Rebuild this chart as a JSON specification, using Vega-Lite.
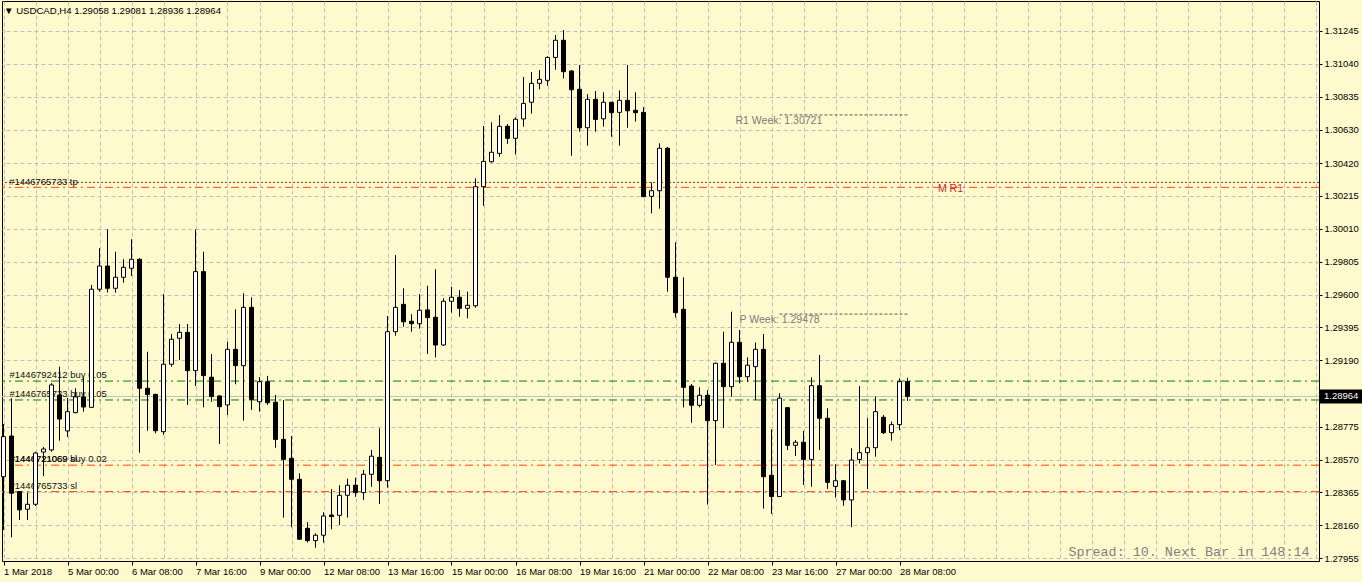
{
  "$schema": "https://vega.github.io/schema/vega-lite/v6.json",
  "width": 1317,
  "height": 560,
  "autosize": {"type": "none"},
  "padding": {"left": 2, "top": 1, "right": 43, "bottom": 21},
  "background": "#fffacd",
  "config": {
    "view": {"stroke": "black", "strokeWidth": 1, "fill": null},
    "font": "Liberation Sans",
    "scale": {"continuousPadding": 0},
    "axis": {"labelOverlap": false, "labelSeparation": 0}
  },
  "title": {"text": "▼  USDCAD,H4  1.29058 1.29081 1.28936 1.28964", "anchor": "start", "frame": "group", "orient": "top", "offset": -15, "dx": 2, "font": "Liberation Sans", "fontSize": 9.6, "fontWeight": "normal", "color": "black"},
  "datasets": {
    "candles": [
      {"i":0,"o":1.28463,"h":1.28792,"l":1.28131,"c":1.28713},
      {"i":1,"o":1.28717,"h":1.28953,"l":1.28085,"c":1.28360},
      {"i":2,"o":1.28370,"h":1.28372,"l":1.28193,"c":1.28256},
      {"i":3,"o":1.28260,"h":1.28364,"l":1.28193,"c":1.28291},
      {"i":4,"o":1.28291,"h":1.28619,"l":1.28280,"c":1.28611},
      {"i":5,"o":1.28617,"h":1.28649,"l":1.28467,"c":1.28636},
      {"i":6,"o":1.28630,"h":1.29048,"l":1.28619,"c":1.29036},
      {"i":7,"o":1.28973,"h":1.29150,"l":1.28688,"c":1.28823},
      {"i":8,"o":1.28749,"h":1.28955,"l":1.28711,"c":1.28869},
      {"i":9,"o":1.28863,"h":1.29015,"l":1.28859,"c":1.28961},
      {"i":10,"o":1.28961,"h":1.29083,"l":1.28869,"c":1.28898},
      {"i":11,"o":1.28896,"h":1.29660,"l":1.28892,"c":1.29633},
      {"i":12,"o":1.29633,"h":1.29889,"l":1.29618,"c":1.29778},
      {"i":13,"o":1.29778,"h":1.30007,"l":1.29612,"c":1.29639},
      {"i":14,"o":1.29639,"h":1.29867,"l":1.29612,"c":1.29708},
      {"i":15,"o":1.29708,"h":1.29820,"l":1.29674,"c":1.29770},
      {"i":16,"o":1.29764,"h":1.29945,"l":1.29716,"c":1.29820},
      {"i":17,"o":1.29820,"h":1.29826,"l":1.28613,"c":1.29015},
      {"i":18,"o":1.29015,"h":1.29243,"l":1.28750,"c":1.28976},
      {"i":19,"o":1.28977,"h":1.28980,"l":1.28734,"c":1.28750},
      {"i":20,"o":1.28744,"h":1.29603,"l":1.28724,"c":1.29165},
      {"i":21,"o":1.29165,"h":1.29354,"l":1.29150,"c":1.29321},
      {"i":22,"o":1.29327,"h":1.29416,"l":1.29192,"c":1.29364},
      {"i":23,"o":1.29364,"h":1.29416,"l":1.28911,"c":1.29125},
      {"i":24,"o":1.29125,"h":1.30007,"l":1.29029,"c":1.29743},
      {"i":25,"o":1.29743,"h":1.29867,"l":1.28896,"c":1.29094},
      {"i":26,"o":1.29084,"h":1.29229,"l":1.28931,"c":1.28963},
      {"i":27,"o":1.28967,"h":1.28970,"l":1.28667,"c":1.28900},
      {"i":28,"o":1.28911,"h":1.29305,"l":1.28848,"c":1.29258},
      {"i":29,"o":1.29258,"h":1.29508,"l":1.29040,"c":1.29156},
      {"i":30,"o":1.29156,"h":1.29608,"l":1.28813,"c":1.29520},
      {"i":31,"o":1.29520,"h":1.29583,"l":1.28880,"c":1.28946},
      {"i":32,"o":1.28931,"h":1.29084,"l":1.28869,"c":1.29056},
      {"i":33,"o":1.29056,"h":1.29092,"l":1.28911,"c":1.28925},
      {"i":34,"o":1.28928,"h":1.28973,"l":1.28644,"c":1.28696},
      {"i":35,"o":1.28696,"h":1.28942,"l":1.28208,"c":1.28571},
      {"i":36,"o":1.28578,"h":1.28717,"l":1.28148,"c":1.28447},
      {"i":37,"o":1.28447,"h":1.28484,"l":1.28070,"c":1.28073},
      {"i":38,"o":1.28141,"h":1.28179,"l":1.28052,"c":1.28064},
      {"i":39,"o":1.28064,"h":1.28110,"l":1.28020,"c":1.28098},
      {"i":40,"o":1.28098,"h":1.28241,"l":1.28052,"c":1.28218},
      {"i":41,"o":1.28224,"h":1.28385,"l":1.28135,"c":1.28214},
      {"i":42,"o":1.28222,"h":1.28410,"l":1.28162,"c":1.28347},
      {"i":43,"o":1.28347,"h":1.28451,"l":1.28208,"c":1.28410},
      {"i":44,"o":1.28410,"h":1.28457,"l":1.28337,"c":1.28364},
      {"i":45,"o":1.28364,"h":1.28505,"l":1.28318,"c":1.28478},
      {"i":46,"o":1.28478,"h":1.28630,"l":1.28401,"c":1.28591},
      {"i":47,"o":1.28584,"h":1.28765,"l":1.28293,"c":1.28438},
      {"i":48,"o":1.28438,"h":1.29466,"l":1.28395,"c":1.29368},
      {"i":49,"o":1.29368,"h":1.29846,"l":1.29343,"c":1.29520},
      {"i":50,"o":1.29539,"h":1.29639,"l":1.29399,"c":1.29430},
      {"i":51,"o":1.29433,"h":1.29477,"l":1.29368,"c":1.29418},
      {"i":52,"o":1.29418,"h":1.29603,"l":1.29387,"c":1.29502},
      {"i":53,"o":1.29504,"h":1.29654,"l":1.29229,"c":1.29456},
      {"i":54,"o":1.29458,"h":1.29758,"l":1.29208,"c":1.29285},
      {"i":55,"o":1.29285,"h":1.29577,"l":1.29279,"c":1.29558},
      {"i":56,"o":1.29558,"h":1.29649,"l":1.29487,"c":1.29583},
      {"i":57,"o":1.29583,"h":1.29628,"l":1.29462,"c":1.29514},
      {"i":58,"o":1.29514,"h":1.29618,"l":1.29452,"c":1.29533},
      {"i":59,"o":1.29530,"h":1.30325,"l":1.29518,"c":1.30273},
      {"i":60,"o":1.30273,"h":1.30652,"l":1.30154,"c":1.30431},
      {"i":61,"o":1.30429,"h":1.30675,"l":1.30423,"c":1.30488},
      {"i":62,"o":1.30481,"h":1.30720,"l":1.30460,"c":1.30650},
      {"i":63,"o":1.30650,"h":1.30664,"l":1.30541,"c":1.30575},
      {"i":64,"o":1.30575,"h":1.30706,"l":1.30473,"c":1.30694},
      {"i":65,"o":1.30696,"h":1.30958,"l":1.30648,"c":1.30793},
      {"i":66,"o":1.30800,"h":1.30989,"l":1.30729,"c":1.30918},
      {"i":67,"o":1.30918,"h":1.31001,"l":1.30881,"c":1.30943},
      {"i":68,"o":1.30937,"h":1.31087,"l":1.30903,"c":1.31080},
      {"i":69,"o":1.31080,"h":1.31220,"l":1.31003,"c":1.31187},
      {"i":70,"o":1.31187,"h":1.31251,"l":1.30949,"c":1.30991},
      {"i":71,"o":1.30995,"h":1.31001,"l":1.30466,"c":1.30878},
      {"i":72,"o":1.30881,"h":1.31032,"l":1.30616,"c":1.30641},
      {"i":73,"o":1.30641,"h":1.30850,"l":1.30529,"c":1.30818},
      {"i":74,"o":1.30818,"h":1.30870,"l":1.30616,"c":1.30693},
      {"i":75,"o":1.30697,"h":1.30862,"l":1.30648,"c":1.30800},
      {"i":76,"o":1.30800,"h":1.30802,"l":1.30585,"c":1.30735},
      {"i":77,"o":1.30737,"h":1.30874,"l":1.30529,"c":1.30812},
      {"i":78,"o":1.30812,"h":1.31032,"l":1.30641,"c":1.30747},
      {"i":79,"o":1.30750,"h":1.30862,"l":1.30679,"c":1.30735},
      {"i":80,"o":1.30737,"h":1.30770,"l":1.30208,"c":1.30211},
      {"i":81,"o":1.30213,"h":1.30300,"l":1.30107,"c":1.30248},
      {"i":82,"o":1.30248,"h":1.30544,"l":1.30136,"c":1.30513},
      {"i":83,"o":1.30513,"h":1.30521,"l":1.29618,"c":1.29708},
      {"i":84,"o":1.29708,"h":1.29926,"l":1.29457,"c":1.29487},
      {"i":85,"o":1.29508,"h":1.29708,"l":1.28896,"c":1.29021},
      {"i":86,"o":1.29029,"h":1.29042,"l":1.28800,"c":1.28909},
      {"i":87,"o":1.28909,"h":1.29021,"l":1.28896,"c":1.28971},
      {"i":88,"o":1.28971,"h":1.29004,"l":1.28289,"c":1.28813},
      {"i":89,"o":1.28813,"h":1.29175,"l":1.28536,"c":1.29171},
      {"i":90,"o":1.29171,"h":1.29368,"l":1.28769,"c":1.29025},
      {"i":91,"o":1.29025,"h":1.29493,"l":1.28963,"c":1.29302},
      {"i":92,"o":1.29302,"h":1.29379,"l":1.29046,"c":1.29087},
      {"i":93,"o":1.29087,"h":1.29208,"l":1.29056,"c":1.29159},
      {"i":94,"o":1.29150,"h":1.29300,"l":1.28942,"c":1.29258},
      {"i":95,"o":1.29258,"h":1.29354,"l":1.28264,"c":1.28463},
      {"i":96,"o":1.28472,"h":1.28759,"l":1.28231,"c":1.28339},
      {"i":97,"o":1.28339,"h":1.28984,"l":1.28337,"c":1.28953},
      {"i":98,"o":1.28894,"h":1.28897,"l":1.28630,"c":1.28659},
      {"i":99,"o":1.28659,"h":1.28692,"l":1.28592,"c":1.28678},
      {"i":100,"o":1.28678,"h":1.28749,"l":1.28412,"c":1.28571},
      {"i":101,"o":1.28571,"h":1.29083,"l":1.28401,"c":1.29031},
      {"i":102,"o":1.29031,"h":1.29223,"l":1.28630,"c":1.28828},
      {"i":103,"o":1.28828,"h":1.28890,"l":1.28387,"c":1.28428},
      {"i":104,"o":1.28403,"h":1.28541,"l":1.28332,"c":1.28438},
      {"i":105,"o":1.28438,"h":1.28442,"l":1.28282,"c":1.28318},
      {"i":106,"o":1.28318,"h":1.28640,"l":1.28148,"c":1.28567},
      {"i":107,"o":1.28571,"h":1.29029,"l":1.28546,"c":1.28613},
      {"i":108,"o":1.28613,"h":1.28828,"l":1.28387,"c":1.28644},
      {"i":109,"o":1.28644,"h":1.28963,"l":1.28588,"c":1.28869},
      {"i":110,"o":1.28834,"h":1.28848,"l":1.28730,"c":1.28738},
      {"i":111,"o":1.28738,"h":1.28807,"l":1.28688,"c":1.28788},
      {"i":112,"o":1.28788,"h":1.29077,"l":1.28754,"c":1.29056},
      {"i":113,"o":1.29058,"h":1.29081,"l":1.28936,"c":1.28964}
    ]
  },
  "layer": [
    {
      "data": {"name": "candles"},
      "mark": {"type": "rule", "strokeWidth": 0, "opacity": 0},
      "encoding": {
        "x": {"field": "i", "type": "quantitative", "title": null,
          "scale": {"domain": [-0.1875, 164.4375], "nice": false, "zero": false, "padding": 0},
          "axis": {"orient": "bottom", "tickCount": 200, "values": [0,4,8,12,16,20,24,28,32,36,40,44,48,52,56,60,64,68,72,76,80,84,88,92,96,100,104,108,112,116,120,124,128,132,136,140,144,148,152,156,160,164],
            "labelExpr": "(datum.value % 8 == 0 && datum.value <= 112) ? ['1 Mar 2018','5 Mar 00:00','6 Mar 08:00','7 Mar 16:00','9 Mar 00:00','12 Mar 08:00','13 Mar 16:00','15 Mar 00:00','16 Mar 08:00','19 Mar 16:00','21 Mar 00:00','22 Mar 08:00','23 Mar 16:00','27 Mar 00:00','28 Mar 08:00'][datum.value / 8] : ''",
            "labelAlign": "left", "labelBaseline": "top", "labelPadding": 1, "labelFont": "Liberation Sans", "labelFontSize": 9.5, "labelColor": "black", "labelOverlap": false, "labelFlush": false, "labelBound": false,
            "tickColor": "black", "tickSize": 4, "tickOpacity": {"condition": {"test": "datum.value % 8 == 0 && datum.value <= 112", "value": 1}, "value": 0},
            "domain": false, "grid": true, "gridColor": "#bdbdbd", "gridDash": [4, 3], "gridWidth": 1}},
        "y": {"field": "l", "type": "quantitative", "title": null,
          "scale": {"domain": [1.27937, 1.31432], "nice": false, "zero": false, "padding": 0},
          "axis": {"orient": "right", "tickCount": 200, "values": [1.31245,1.3104,1.30835,1.3063,1.3042,1.30215,1.3001,1.29805,1.296,1.29395,1.2919,1.28775,1.2857,1.28365,1.2816,1.27955],
            "format": ".5f", "labelFont": "Liberation Sans", "labelFontSize": 9.5, "labelColor": "black", "labelPadding": 2, "labelOverlap": false, "labelFlush": false, "labelBound": false,
            "tickColor": "black", "tickSize": 3, "domain": false, "grid": true, "gridColor": "#bdbdbd", "gridDash": [4, 3], "gridWidth": 1}}
      }
    },
    {
      "data": {"values": [{"price": 1.30300}]},
      "mark": {"type": "rule", "color": "#b01c1c", "strokeDash": [2, 2], "strokeWidth": 1},
      "encoding": {"y": {"field": "price", "type": "quantitative", "title": null}}
    },
    {
      "data": {"values": [{"price": 1.30269}, {"price": 1.28535}, {"price": 1.28370}]},
      "mark": {"type": "rule", "color": "#ff4500", "strokeDash": [8, 4, 2, 4], "strokeWidth": 1},
      "encoding": {"y": {"field": "price", "type": "quantitative", "title": null}}
    },
    {
      "data": {"values": [{"price": 1.29060}, {"price": 1.28942}]},
      "mark": {"type": "rule", "color": "#008000", "strokeDash": [8, 4, 2, 4], "strokeWidth": 1},
      "encoding": {"y": {"field": "price", "type": "quantitative", "title": null}}
    },
    {
      "data": {"values": [{"price": 1.28964}]},
      "mark": {"type": "rule", "color": "#c0c0c0", "strokeWidth": 1},
      "encoding": {"y": {"field": "price", "type": "quantitative", "title": null}}
    },
    {
      "data": {"values": [{"price": 1.30721, "from": 97, "to": 113}, {"price": 1.29478, "from": 97, "to": 113}]},
      "mark": {"type": "rule", "color": "#5a5a5a", "strokeDash": [3, 2], "strokeWidth": 1},
      "encoding": {
        "x": {"field": "from", "type": "quantitative", "title": null},
        "x2": {"field": "to"},
        "y": {"field": "price", "type": "quantitative", "title": null}
      }
    },
    {
      "data": {"values": [{"label": "#1446765733 tp", "price": 1.30300}]},
      "mark": {"type": "text", "align": "left", "baseline": "middle", "font": "Liberation Sans", "fontSize": 9.5, "color": "#111111"},
      "encoding": {
        "x": {"datum": 0.7, "type": "quantitative"},
        "y": {"field": "price", "type": "quantitative", "title": null},
        "text": {"field": "label"}
      }
    },
    {
      "data": {"values": [
        {"label": "#1446792412 buy 0.05", "price": 1.29060},
        {"label": "#1446765733 buy 0.05", "price": 1.28942},
        {"label": "#1446721069 buy 0.02", "price": 1.28535},
        {"label": "#1446721069 sl", "price": 1.28535},
        {"label": "#1446765733 sl", "price": 1.28370}
      ]},
      "mark": {"type": "text", "align": "left", "baseline": "bottom", "dy": -1, "font": "Liberation Sans", "fontSize": 9.5, "color": "#111111"},
      "encoding": {
        "x": {"datum": 0.75, "type": "quantitative"},
        "y": {"field": "price", "type": "quantitative", "title": null},
        "text": {"field": "label"}
      }
    },
    {
      "data": {"values": [
        {"label": "R1 Week: 1.30721", "price": 1.30721, "at": 91.5},
        {"label": "P Week: 1.29478", "price": 1.29478, "at": 92}
      ]},
      "mark": {"type": "text", "align": "left", "baseline": "top", "dy": 1, "font": "Liberation Sans", "fontSize": 10.5, "color": "#7a7a7a"},
      "encoding": {
        "x": {"field": "at", "type": "quantitative", "title": null},
        "y": {"field": "price", "type": "quantitative", "title": null},
        "text": {"field": "label"}
      }
    },
    {
      "data": {"values": [{"label": "M R1", "price": 1.30269}]},
      "mark": {"type": "text", "align": "left", "baseline": "middle", "dy": 2, "font": "Liberation Sans", "fontSize": 10.5, "color": "#c8283c"},
      "encoding": {
        "x": {"datum": 116.8, "type": "quantitative"},
        "y": {"field": "price", "type": "quantitative", "title": null},
        "text": {"field": "label"}
      }
    },
    {
      "data": {"values": [{"label": "Spread: 10. Next Bar in 148:14"}]},
      "mark": {"type": "text", "align": "right", "baseline": "middle", "font": "Liberation Mono", "fontSize": 13.4, "color": "#808080"},
      "encoding": {
        "x": {"datum": 163.25, "type": "quantitative"},
        "y": {"datum": 1.27994, "type": "quantitative"},
        "text": {"field": "label"}
      }
    },
    {
      "data": {"name": "candles"},
      "mark": {"type": "rule", "color": "black", "strokeWidth": 1},
      "encoding": {
        "x": {"field": "i", "type": "quantitative", "title": null},
        "y": {"field": "l", "type": "quantitative", "title": null},
        "y2": {"field": "h"}
      }
    },
    {
      "data": {"name": "candles"},
      "mark": {"type": "bar", "size": 4, "stroke": "black", "strokeWidth": 1},
      "encoding": {
        "x": {"field": "i", "type": "quantitative", "title": null},
        "y": {"field": "o", "type": "quantitative", "title": null},
        "y2": {"field": "c"},
        "fill": {"condition": {"test": "datum.c >= datum.o", "value": "white"}, "value": "black"}
      }
    },
    {
      "data": {"values": [{"price": 1.28964, "label": "1.28964"}]},
      "layer": [
        {
          "mark": {"type": "rect", "color": "black"},
          "encoding": {
            "x": {"datum": 164.56, "type": "quantitative"},
            "x2": {"datum": 170},
            "y": {"datum": 1.28920, "type": "quantitative"},
            "y2": {"datum": 1.29008}
          }
        },
        {
          "mark": {"type": "text", "align": "left", "baseline": "middle", "font": "Liberation Sans", "fontSize": 9.5, "color": "white"},
          "encoding": {
            "x": {"datum": 165.06, "type": "quantitative"},
            "y": {"field": "price", "type": "quantitative", "title": null},
            "text": {"field": "label"}
          }
        }
      ]
    }
  ]
}
